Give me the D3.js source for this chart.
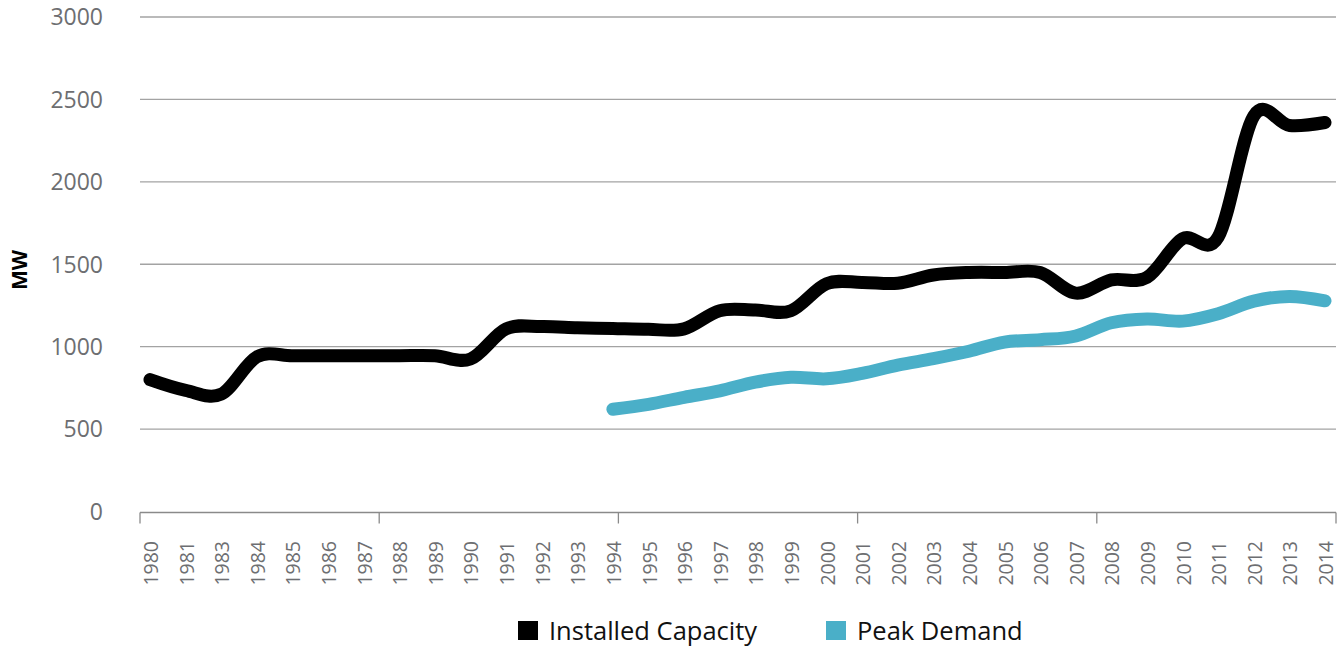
<!DOCTYPE html>
<html>
<head>
<meta charset="utf-8">
<script src="https://cdn.jsdelivr.net/npm/d3@7"></script>
<style>
  body { margin: 0; background: #fff; }
  text { font-family: "Open Sans", "Noto Sans", sans-serif; }
</style>
</head>
<body>
<div id="chart"></div>
<script>
const sizing = { width : 1339, height : 650 }
const plot = { left : 140, right : 1336, top : 17, bot : 511.5 }

// 1982 is missing in the source chart
const years = ["1980","1981","1983","1984","1985","1986","1987","1988","1989","1990",
    "1991","1992","1993","1994","1995","1996","1997","1998","1999","2000",
    "2001","2002","2003","2004","2005","2006","2007","2008","2009","2010",
    "2011","2012","2013","2014"]

const installedCapacity = [800,735,712,938,945,945,945,945,945,925,
    1108,1122,1115,1110,1105,1108,1218,1222,1218,1382,
    1390,1385,1435,1450,1450,1450,1325,1405,1420,1655,
    1665,2400,2342,2360]

const peakDemand = [null,null,null,null,null,null,null,null,null,null,
    null,null,null,620,650,693,732,785,814,805,
    838,888,927,972,1028,1042,1065,1145,1168,1155,
    1200,1276,1305,1278]

const yTicks = [0, 500, 1000, 1500, 2000, 2500, 3000]

const series = [
    { name : "Installed Capacity", values : installedCapacity, color : "#000000" },
    { name : "Peak Demand", values : peakDemand, color : "#4aafc8" }
]

const svg = d3.select("#chart").append("svg")
    .attr("width", sizing.width)
    .attr("height", sizing.height)

const x = d3.scalePoint().domain(years).range([150, 1325])
const y = d3.scaleLinear().domain([0, 3000]).range([plot.bot, plot.top])

// gridlines
svg.append("g").selectAll("line")
    .data(yTicks.filter(d => d > 0))
    .join("line")
    .attr("x1", plot.left).attr("x2", plot.right)
    .attr("y1", d => y(d)).attr("y2", d => y(d))
    .attr("stroke", "#a3a3a3")
    .attr("stroke-width", 1.3)

// y labels
svg.append("g").selectAll("text")
    .data(yTicks)
    .join("text")
    .attr("x", 103)
    .attr("y", d => y(d))
    .attr("dy", "0.36em")
    .attr("text-anchor", "end")
    .attr("font-size", 23)
    .attr("fill", "#6d6e71")
    .text(d => d)

svg.append("text")
    .attr("transform", "translate(27,270) rotate(-90)")
    .attr("text-anchor", "middle")
    .attr("font-size", 21)
    .attr("font-weight", "bold")
    .attr("fill", "#000")
    .text("MW")

// x axis line and ticks
const xAxisGroup = svg.append("g")
xAxisGroup.append("line")
    .attr("x1", plot.left).attr("x2", plot.right)
    .attr("y1", plot.bot + 1).attr("y2", plot.bot + 1)
    .attr("stroke", "#8a8a8a").attr("stroke-width", 1.3)

const tickPos = d3.scaleLinear().domain([0, 5]).range([plot.left, plot.right])
xAxisGroup.selectAll(".tick")
    .data(d3.range(6))
    .join("line")
    .attr("class", "tick")
    .attr("x1", d => tickPos(d)).attr("x2", d => tickPos(d))
    .attr("y1", plot.bot + 1).attr("y2", plot.bot + 12)
    .attr("stroke", "#8a8a8a").attr("stroke-width", 1.3)

xAxisGroup.selectAll("text")
    .data(years)
    .join("text")
    .attr("transform", d => `translate(${x(d) + 1},541) rotate(-90)`)
    .attr("text-anchor", "end")
    .attr("dy", "0.36em")
    .attr("font-size", 19.5)
    .attr("fill", "#6d6e71")
    .text(d => d)

// lines
const line = d3.line()
    .defined(d => d.v !== null)
    .x(d => x(d.year))
    .y(d => y(d.v))
    .curve(d3.curveCardinal.tension(0))

svg.append("g").selectAll("path")
    .data(series)
    .join("path")
    .attr("d", s => line(years.map((yr, i) => ({ year : yr, v : s.values[i] }))))
    .attr("fill", "none")
    .attr("stroke", s => s.color)
    .attr("stroke-width", 13)
    .attr("stroke-linecap", "round")
    .attr("stroke-linejoin", "round")

// legend
const legendX = [518, 826]
const legend = svg.append("g").selectAll("g")
    .data(series)
    .join("g")
    .attr("transform", (d, i) => `translate(${legendX[i]},621)`)

legend.append("rect")
    .attr("width", 20).attr("height", 19)
    .attr("fill", d => d.color)

legend.append("text")
    .attr("x", 31)
    .attr("y", 18.5)
    .attr("font-size", 25.5)
    .attr("fill", "#111")
    .text(d => d.name)
</script>
</body>
</html>
